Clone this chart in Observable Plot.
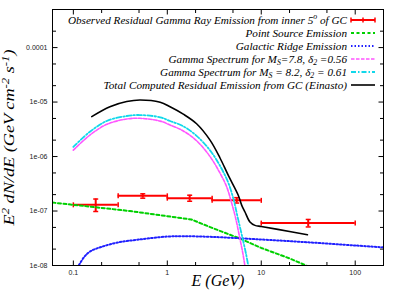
<!DOCTYPE html>
<html><head><meta charset="utf-8">
<script src="https://cdn.jsdelivr.net/npm/d3@7"></script>
<script src="https://cdn.jsdelivr.net/npm/@observablehq/plot@0.6"></script>
<style>html,body{margin:0;padding:0;background:#fff;} svg{display:block}</style>
</head><body><div id="chart"></div>
<script>
// ---- observed residual emission (energy bins, GeV; E^2 dN/dE) ----
const obsE   = [0.173, 0.548, 1.73, 5.48, 31.6];
const obsElo = [0.1, 0.3, 1.0, 3.0, 10];
const obsEhi = [0.3, 1.0, 3.0, 10, 100];
const obsF   = [1.30e-7, 1.90e-7, 1.72e-7, 1.57e-7, 6.0e-8];
const obsFlo = [0.98e-7, 1.72e-7, 1.51e-7, 1.40e-7, 5.1e-8];
const obsFhi = [1.66e-7, 2.07e-7, 1.95e-7, 1.76e-7, 7.0e-8];

// ---- point source emission ----
const psE = [0.06, 0.1, 0.4, 1.8, 3.0, 6.0, 10, 20, 30, 40];
const psF = [1.43e-7, 1.30e-7, 1.0e-7, 7.0e-8, 4.9e-8, 3.1e-8, 2.1e-8, 1.35e-8, 1.0e-8, 8e-9];

// ---- galactic ridge emission ----
const grE = [0.11, 0.13, 0.15, 0.2, 0.3, 0.5, 1, 1.5, 3, 10, 30, 100, 200];
const grF = [9e-9, 1.42e-8, 1.8e-8, 2.2e-8, 2.65e-8, 3.0e-8, 3.4e-8, 3.45e-8, 3.35e-8, 3.0e-8, 2.68e-8, 2.33e-8, 2.15e-8];

// ---- gamma spectrum Ms=7.8, d2=0.56 ----
const m1E = [0.1, 0.15, 0.227, 0.37, 0.51, 0.84, 1.07, 1.48, 2.05, 2.85, 3.63, 4.28, 4.75, 5.3, 5.93, 6.4, 6.75];
const m1F = [1.31e-6, 2.48e-6, 3.9e-6, 4.89e-6, 5.03e-6, 4.47e-6, 3.79e-6, 2.95e-6, 1.95e-6, 1.0e-6, 5.0e-7, 2.8e-7, 1.57e-7, 7.8e-8, 3.1e-8, 1.6e-8, 9e-9];

// ---- gamma spectrum Ms=8.2, d2=0.61 ----
const m2E = [0.1, 0.15, 0.227, 0.37, 0.51, 0.84, 1.07, 1.48, 2.05, 2.85, 3.63, 4.46, 5.1, 5.6, 6.34, 6.9, 7.35];
const m2F = [1.5e-6, 2.85e-6, 4.5e-6, 5.55e-6, 5.78e-6, 5.25e-6, 4.49e-6, 3.6e-6, 2.4e-6, 1.3e-6, 6.8e-7, 3.3e-7, 1.57e-7, 7.8e-8, 3.1e-8, 1.6e-8, 9e-9];

// ---- total computed residual emission (Einasto) ----
const totE = [0.157, 0.245, 0.37, 0.51, 0.84, 1.07, 1.48, 2.05, 2.85, 3.63, 4.46, 5.69, 6.2, 6.71, 7.58, 8.57, 10, 15, 31];
const totF = [5.4e-6, 8.2e-6, 1.02e-5, 1.09e-5, 9.9e-6, 8.2e-6, 6.0e-6, 4.0e-6, 2.0e-6, 9.5e-7, 4.5e-7, 1.95e-7, 1.27e-7, 9.6e-8, 6.3e-8, 5.45e-8, 5.2e-8, 4.6e-8, 3.67e-8];

// ---- axes ----
const xMajor = [0.1, 1, 10, 100];
const xLabels = ["0.1", "1", "10", "100"];
const xMinor = [0.2, 0.5, 2, 5, 20, 50];
const yMajor = [1e-8, 1e-7, 1e-6, 1e-5, 1e-4];
const yLabels = ["1e-08", "1e-07", "1e-06", "1e-05", "0.0001"];
const yMinor = [2e-8, 5e-8, 2e-7, 5e-7, 2e-6, 5e-6, 2e-5, 5e-5, 2e-4];
const xTitle = "E (GeV)";
const yTitle = "E^{2} dN/dE (GeV cm^{-2} s^{-1})";

const legendLabels = [
  "Observed Residual Gamma Ray Emission from inner 5^{o} of GC",
  "Point Source Emission",
  "Galactic Ridge Emission",
  "Gamma Spectrum for M_{S}=7.8, δ_{2} =0.56",
  "Gamma Spectrum for M_{S} = 8.2, δ_{2} = 0.61",
  "Total Computed Residual Emission from GC (Einasto)"
];

// ---- styles ----
const RED = "#ff0000";
const styles = [
  {stroke: RED, strokeWidth: 2, dash: null},
  {stroke: "#00d000", strokeWidth: 2, dash: "3,2.5"},
  {stroke: "#2020ff", strokeWidth: 2, dash: "1.5,2"},
  {stroke: "#ff55ff", strokeWidth: 1.6, dash: "3.5,1.5"},
  {stroke: "#11d8ea", strokeWidth: 1.8, dash: "5,2,1.5,2"},
  {stroke: "#000000", strokeWidth: 1.6, dash: null}
];

const W = 402, H = 291, mL = 52, mR = 19, mT = 9, mB = 26;

const tbl = (E, F) => E.map((e, i) => ({e, f: F[i]}));
const obs = obsE.map((e, i) => ({e, lo: obsElo[i], hi: obsEhi[i], f: obsF[i], fl: obsFlo[i], fh: obsFhi[i]}));

const seg = (dx, dy) => ({draw(ctx) { ctx.moveTo(0, 0); ctx.lineTo(dx, dy); }});
const bar = (hx, hy) => ({draw(ctx) { ctx.moveTo(-hx, -hy); ctx.lineTo(hx, hy); }});

const lineMark = (E, F, s, curve) => Plot.line(tbl(E, F), {
  x: "e", y: "f", stroke: s.stroke, strokeWidth: s.strokeWidth,
  strokeDasharray: s.dash || undefined, curve, clip: true
});

function legend() {
  const g = d3.create("svg:g");
  const xr = W - mR;
  legendLabels.forEach((lab, i) => {
    const y = mT + 11 + 13 * i;
    g.append("text").attr("x", xr - 36).attr("y", y).attr("dy", "0.32em")
      .attr("text-anchor", "end").attr("font-family", "Liberation Serif, Times New Roman, serif")
      .attr("font-style", "italic").attr("font-size", 11.2).attr("fill", "#000").text(lab);
    const s = styles[i];
    const l = g.append("line").attr("x1", xr - 32).attr("x2", xr - 8).attr("y1", y).attr("y2", y)
      .attr("stroke", s.stroke).attr("stroke-width", s.strokeWidth);
    if (s.dash) l.attr("stroke-dasharray", s.dash);
    if (i === 0) {
      [xr - 32, xr - 20, xr - 8].forEach(x =>
        g.append("line").attr("x1", x).attr("x2", x).attr("y1", y - 2.5).attr("y2", y + 2.5)
          .attr("stroke", RED).attr("stroke-width", 1.5));
    }
  });
  return g.node();
}

const tickStyle = {fill: "none", stroke: "#000", strokeWidth: 1};

const chart = Plot.plot({
  width: W, height: H,
  marginLeft: mL, marginRight: mR, marginTop: mT, marginBottom: mB,
  style: {background: "#fff", overflow: "visible"},
  x: {type: "log", domain: [0.06, 200], axis: null},
  y: {type: "log", domain: [1e-8, 5e-4], axis: null},
  marks: [
    // ticks (inward, mirrored)
    Plot.dot(yMajor, {y: d => d, frameAnchor: "left", symbol: seg(5, 0), ...tickStyle}),
    Plot.dot(yMinor, {y: d => d, frameAnchor: "left", symbol: seg(3.5, 0), ...tickStyle}),
    Plot.dot(yMajor, {y: d => d, frameAnchor: "right", symbol: seg(-5, 0), ...tickStyle}),
    Plot.dot(yMinor, {y: d => d, frameAnchor: "right", symbol: seg(-3.5, 0), ...tickStyle}),
    Plot.dot(xMajor, {x: d => d, frameAnchor: "bottom", symbol: seg(0, -5), ...tickStyle}),
    Plot.dot(xMinor, {x: d => d, frameAnchor: "bottom", symbol: seg(0, -3.5), ...tickStyle}),
    Plot.dot(xMajor, {x: d => d, frameAnchor: "top", symbol: seg(0, 5), ...tickStyle}),
    Plot.dot(xMinor, {x: d => d, frameAnchor: "top", symbol: seg(0, 3.5), ...tickStyle}),
    // tick labels
    Plot.text(yMajor, {y: d => d, text: (d, i) => yLabels[i], frameAnchor: "left", dx: -5, textAnchor: "end",
      fontSize: 7, fontFamily: "Liberation Sans, Arial, sans-serif", fill: "#222"}),
    Plot.text(xMajor, {x: d => d, text: (d, i) => xLabels[i], frameAnchor: "bottom", dy: 9,
      fontSize: 7, fontFamily: "Liberation Sans, Arial, sans-serif", fill: "#222"}),
    // titles
    Plot.text([xTitle], {text: d => d, frameAnchor: "bottom", dy: 20, textAnchor: "middle", fontSize: 16, fontStyle: "italic",
      fontFamily: "Liberation Serif, Times New Roman, serif", fill: "#000"}),
    Plot.text([yTitle], {text: d => d, frameAnchor: "left", dx: -43, rotate: -90, textAnchor: "middle", fontSize: 15, fontStyle: "italic",
      fontFamily: "Liberation Serif, Times New Roman, serif", fill: "#000"}),
    // observed data with error bars
    Plot.ruleY(obs, {y: "f", x1: "lo", x2: "hi", stroke: RED, strokeWidth: 2}),
    Plot.ruleX(obs, {x: "e", y1: "fl", y2: "fh", stroke: RED, strokeWidth: 2}),
    Plot.dot(obs, {x: "lo", y: "f", symbol: bar(0, 2.5), fill: "none", stroke: RED, strokeWidth: 1.5}),
    Plot.dot(obs, {x: "hi", y: "f", symbol: bar(0, 2.5), fill: "none", stroke: RED, strokeWidth: 1.5}),
    Plot.dot(obs, {x: "e", y: "fl", symbol: bar(2.5, 0), fill: "none", stroke: RED, strokeWidth: 1.5}),
    Plot.dot(obs, {x: "e", y: "fh", symbol: bar(2.5, 0), fill: "none", stroke: RED, strokeWidth: 1.5}),
    // model curves
    lineMark(psE, psF, styles[1], "linear"),
    lineMark(grE, grF, styles[2], "catmull-rom"),
    lineMark(m1E, m1F, styles[3], "catmull-rom"),
    lineMark(m2E, m2F, styles[4], "catmull-rom"),
    lineMark(totE, totF, styles[5], "catmull-rom"),
    Plot.frame({stroke: "#000", strokeWidth: 1}),
    legend
  ]
});

document.getElementById("chart").appendChild(chart);

// rich text: ^{..} superscript, _{..} subscript
const NS = "http://www.w3.org/2000/svg";
chart.querySelectorAll("text").forEach(el => {
  const s = el.textContent;
  if (!/[\^_]\{/.test(s)) return;
  const B = parseFloat(getComputedStyle(el).fontSize) || 12;
  el.textContent = "";
  let cur = 0, last = 0, m;
  const re = /([\^_])\{([^}]*)\}/g;
  const add = (txt, off, small) => {
    const t = document.createElementNS(NS, "tspan");
    t.textContent = txt;
    const d = off - cur;
    if (d) t.setAttribute("dy", d.toFixed(2));
    if (small) t.setAttribute("font-size", (B * 0.7).toFixed(1));
    cur = off;
    el.appendChild(t);
  };
  while ((m = re.exec(s))) {
    if (m.index > last) add(s.slice(last, m.index), 0, false);
    add(m[2], m[1] === "^" ? -0.38 * B : 0.25 * B, true);
    last = re.lastIndex;
  }
  if (last < s.length) add(s.slice(last), 0, false);
  if (s === yTitle) {
    el.setAttribute("textLength", "176");
    el.setAttribute("lengthAdjust", "spacingAndGlyphs");
  }
});
</script>
</body></html>
